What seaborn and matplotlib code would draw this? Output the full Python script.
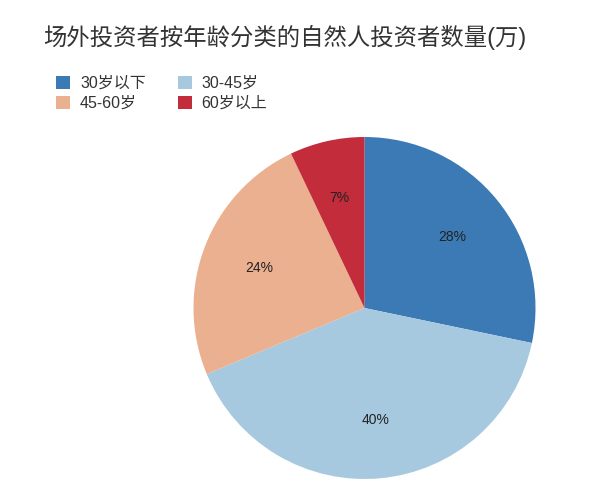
import matplotlib
matplotlib.use("Agg")
import matplotlib.pyplot as plt
from matplotlib.patches import Patch
import seaborn as sns

# Natural-person investors in the OTC market, by age group (share, %)
categories = ["30岁以下", "30-45岁", "45-60岁", "60岁以上"]
values = [28, 40, 24, 7]
colors_hex = ["#3b7ab4", "#a7c9e0", "#eab090", "#c22c3b"]
title = "场外投资者按年龄分类的自然人投资者数量(万)"

sns.set_theme(style="white")
fonts = ["Liberation Sans", "Noto Sans CJK SC", "DejaVu Sans"]
plt.rcParams["font.family"] = fonts

palette = sns.color_palette(colors_hex)

W, H = 600, 496
fig = plt.figure(figsize=(W / 100, H / 100), dpi=100)
fig.patch.set_facecolor("white")

# Pie axes: a square box centred on the pie
cx, cy, r = 364.5, 308, 171
ax = fig.add_axes([(cx - r) / W, (H - cy - r) / H, 2 * r / W, 2 * r / H])
wedges, texts, autotexts = ax.pie(
    values,
    colors=palette,
    startangle=90,
    counterclock=False,
    radius=1,
    autopct=lambda p: f"{p:.0f}%",
    pctdistance=0.66,
    wedgeprops=dict(linewidth=0),
    textprops=dict(fontsize=10, color="#222222"),
)
ax.set_xlim(-1, 1)
ax.set_ylim(-1, 1)
ax.set_aspect("equal")
ax.axis("off")

fig.text(43 / W, 1 - 37 / H, title, fontsize=16.8, color="#333333",
         ha="left", va="center", family=fonts)

# Legend laid out row by row (matplotlib fills columns first)
handles = [Patch(facecolor=c, edgecolor="none") for c in palette]
order = [0, 2, 1, 3]
fig.legend(
    [handles[i] for i in order], [categories[i] for i in order],
    loc="upper left", bbox_to_anchor=(56 / W, 1 - 76 / H),
    ncol=2, frameon=False, fontsize=11.5,
    handlelength=0.9, handleheight=0.9, handletextpad=0.6,
    columnspacing=2.0, labelspacing=0.3, borderpad=0, borderaxespad=0,
    labelcolor="#333333",
)

fig.savefig("out.png", dpi=100, facecolor="white")
